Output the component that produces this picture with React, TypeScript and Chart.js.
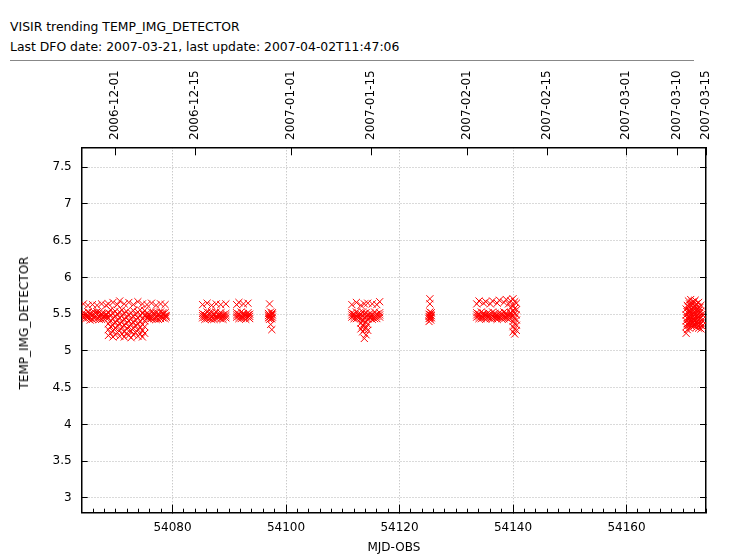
import { useEffect, useRef } from "react";
import { Chart, registerables, type ChartConfiguration } from "chart.js";

Chart.register(...registerables);

const FONT = "'DejaVu Sans', sans-serif";

const TITLE = "VISIR trending TEMP_IMG_DETECTOR";
const SUBTITLE = "Last DFO date: 2007-03-21, last update: 2007-04-02T11:47:06";
const X_TITLE = "MJD-OBS";
const Y_TITLE = "TEMP_IMG_DETECTOR";

// axis ranges
const X_MIN = 54064;
const X_MAX = 54174;
const Y_MIN = 2.8;
const Y_MAX = 7.77;

// tick values / labels
const mjdTicks = [54080, 54100, 54120, 54140, 54160];
const tempTicks = [3, 3.5, 4, 4.5, 5, 5.5, 6, 6.5, 7, 7.5];
const dateTickMjd = [54070, 54084, 54101, 54115, 54132, 54146, 54160, 54169, 54174];
const dateTickLabels = [
  "2006-12-01",
  "2006-12-15",
  "2007-01-01",
  "2007-01-15",
  "2007-02-01",
  "2007-02-15",
  "2007-03-01",
  "2007-03-10",
  "2007-03-15",
];

// observation blocks: MJD of each chunk, and the readings at that time
const blockA_mjd = [
  54064.3, 54064.7, 54065.1, 54065.5, 54065.9, 54066.3, 54066.7, 54067.1, 54067.5, 54067.9, 54068.3,
  54068.7, 54069.1, 54069.5, 54069.9, 54070.3, 54070.7, 54071.1, 54071.5, 54071.9, 54072.3, 54072.7,
  54073.1, 54073.5, 54073.9, 54074.3, 54074.7, 54075.1,
  54075.5, 54075.9, 54076.3, 54076.7, 54077.1, 54077.5, 54077.9, 54078.3, 54078.7, 54078.9,
];
const blockA_temp = [
  [5.46, 5.49, 5.52, 5.64], [5.44, 5.47, 5.5], [5.45, 5.48, 5.53, 5.62], [5.42, 5.45, 5.51], [5.43, 5.49, 5.52, 5.63],
  [5.44, 5.47, 5.52], [5.44, 5.5, 5.53, 5.62], [5.43, 5.46, 5.53], [5.43, 5.49, 5.51, 5.64], [5.44, 5.47, 5.51],
  [5.45, 5.48, 5.5, 5.62],
  [5.21, 5.29, 5.37, 5.45, 5.52, 5.64], [5.24, 5.33, 5.41, 5.49, 5.56], [5.19, 5.27, 5.35, 5.44, 5.51, 5.66],
  [5.22, 5.31, 5.39, 5.47, 5.54], [5.25, 5.34, 5.42, 5.5, 5.63], [5.2, 5.28, 5.37, 5.45, 5.53, 5.68],
  [5.23, 5.32, 5.4, 5.48, 5.56], [5.19, 5.26, 5.35, 5.43, 5.51, 5.64], [5.24, 5.3, 5.38, 5.46, 5.54],
  [5.21, 5.33, 5.41, 5.49, 5.66], [5.18, 5.27, 5.36, 5.44, 5.52], [5.22, 5.31, 5.39, 5.47, 5.55, 5.63],
  [5.25, 5.34, 5.42, 5.5], [5.2, 5.29, 5.37, 5.45, 5.53, 5.67], [5.23, 5.32, 5.4, 5.48, 5.56],
  [5.19, 5.28, 5.36, 5.44, 5.51, 5.64], [5.24, 5.33, 5.41, 5.49, 5.55],
  [5.45, 5.48, 5.51, 5.63], [5.43, 5.46, 5.49], [5.44, 5.47, 5.53, 5.65], [5.44, 5.5, 5.52], [5.43, 5.46, 5.52, 5.62],
  [5.43, 5.48, 5.51], [5.44, 5.47, 5.53, 5.64], [5.45, 5.5, 5.52], [5.44, 5.48, 5.52, 5.63], [5.46, 5.48],
];

const blockB_mjd = [54085.3, 54085.7, 54086.1, 54086.5, 54086.9, 54087.3, 54087.7, 54088.1, 54088.5, 54088.9, 54089.4];
const blockB_temp = [
  [5.45, 5.48, 5.51, 5.63], [5.43, 5.46, 5.49], [5.44, 5.47, 5.53, 5.65], [5.44, 5.5, 5.52], [5.43, 5.46, 5.52, 5.62],
  [5.43, 5.49, 5.51], [5.44, 5.47, 5.53, 5.64], [5.45, 5.48, 5.5], [5.44, 5.49, 5.52, 5.63], [5.43, 5.46, 5.49],
  [5.45, 5.48, 5.51, 5.64],
];

const blockC_mjd = [54091.3, 54091.7, 54092.1, 54092.5, 54092.9, 54093.3, 54093.6];
const blockC_temp = [
  [5.46, 5.49, 5.52, 5.63], [5.44, 5.47, 5.5, 5.66], [5.44, 5.47, 5.53], [5.45, 5.48, 5.51, 5.64], [5.43, 5.46, 5.49],
  [5.46, 5.49, 5.52, 5.65], [5.44, 5.47, 5.5],
];

const blockD_mjd = [54096.9, 54097.1, 54097.3, 54097.5, 54097.6];
const blockD_temp = [[5.45, 5.48, 5.51], [5.43, 5.46, 5.49, 5.64], [5.44, 5.47, 5.53, 5.36], [5.44, 5.5, 5.29], [5.46, 5.49, 5.52]];

const blockE_mjd = [
  54111.6, 54112.0, 54112.4, 54112.8, 54113.2, 54113.5, 54113.8, 54114.1, 54114.4, 54114.8, 54115.2, 54115.6,
  54116.0, 54116.5,
];
const blockE_temp = [
  [5.46, 5.49, 5.52, 5.63], [5.44, 5.47, 5.5], [5.44, 5.47, 5.53, 5.66], [5.45, 5.48, 5.51], [5.3, 5.38, 5.44, 5.5, 5.62],
  [5.26, 5.34, 5.42, 5.48, 5.53], [5.17, 5.29, 5.37, 5.45, 5.51, 5.64], [5.22, 5.32, 5.4, 5.47, 5.52],
  [5.28, 5.36, 5.43, 5.49, 5.65], [5.45, 5.48, 5.51], [5.43, 5.46, 5.49, 5.64], [5.44, 5.47, 5.53],
  [5.44, 5.47, 5.5, 5.63], [5.46, 5.49, 5.52, 5.67],
];

const blockF_mjd = [54125.2, 54125.35, 54125.5, 54125.6];
const blockF_temp = [[5.4, 5.44, 5.47, 5.5], [5.45, 5.49, 5.53, 5.64, 5.71], [5.42, 5.46, 5.49], [5.45, 5.48, 5.52]];

const blockG_mjd = [
  54133.6, 54134.0, 54134.4, 54134.8, 54135.2, 54135.6, 54136.0, 54136.4, 54136.8, 54137.2, 54137.6, 54138.0,
  54138.4, 54138.8, 54139.2, 54139.6, 54140.0, 54140.3, 54140.6,
];
const blockG_temp = [
  [5.46, 5.49, 5.52, 5.64], [5.44, 5.47, 5.5, 5.68], [5.44, 5.47, 5.53], [5.45, 5.48, 5.51, 5.65], [5.43, 5.46, 5.49, 5.67],
  [5.46, 5.49, 5.52], [5.44, 5.47, 5.5, 5.64], [5.44, 5.47, 5.53, 5.68], [5.45, 5.48, 5.51], [5.43, 5.46, 5.49, 5.65],
  [5.46, 5.49, 5.52, 5.69], [5.44, 5.47, 5.5], [5.44, 5.47, 5.53, 5.66], [5.45, 5.48, 5.51, 5.7], [5.43, 5.46, 5.49, 5.64],
  [5.46, 5.49, 5.52, 5.59, 5.68],
  [5.26, 5.33, 5.4, 5.47, 5.54, 5.62, 5.71], [5.23, 5.3, 5.37, 5.44, 5.51, 5.58, 5.67],
  [5.28, 5.35, 5.42, 5.49, 5.56, 5.65],
];

const blockH_mjd = [
  54170.5, 54170.7, 54170.9, 54171.1, 54171.3, 54171.5, 54171.7, 54171.9, 54172.1, 54172.3, 54172.5, 54172.7,
  54172.9, 54173.1, 54173.3,
];
const blockH_temp = [
  [5.24, 5.33, 5.41, 5.49, 5.57], [5.29, 5.37, 5.45, 5.53, 5.62], [5.35, 5.43, 5.51, 5.6, 5.68],
  [5.31, 5.39, 5.47, 5.55, 5.64], [5.36, 5.44, 5.52, 5.61, 5.7], [5.33, 5.41, 5.49, 5.57, 5.66],
  [5.38, 5.46, 5.54, 5.63], [5.34, 5.42, 5.5, 5.58, 5.67], [5.37, 5.45, 5.53, 5.61, 5.69],
  [5.32, 5.4, 5.48, 5.56, 5.64], [5.36, 5.44, 5.52, 5.6], [5.31, 5.39, 5.47, 5.55, 5.66],
  [5.35, 5.43, 5.51, 5.59], [5.3, 5.38, 5.46, 5.54, 5.62], [5.34, 5.42, 5.5],
];

const blocks: [number[], number[][]][] = [
  [blockA_mjd, blockA_temp],
  [blockB_mjd, blockB_temp],
  [blockC_mjd, blockC_temp],
  [blockD_mjd, blockD_temp],
  [blockE_mjd, blockE_temp],
  [blockF_mjd, blockF_temp],
  [blockG_mjd, blockG_temp],
  [blockH_mjd, blockH_temp],
];

const points = blocks.flatMap(([mjd, temp]) => mjd.flatMap((x, i) => temp[i].map((y) => ({ x, y }))));

// minor ticks on the MJD axis, every 2 days
const minorTicks: number[] = [];
for (let v = X_MIN; v <= X_MAX; v += 2) minorTicks.push(v);

const GRID = "#b4b4b4";
const AXIS = "#000";

function TrendChart() {
  const canvasRef = useRef<HTMLCanvasElement>(null);

  useEffect(() => {
    if (!canvasRef.current) return;
    const tickFont = { family: FONT, size: 12 };
    const config: ChartConfiguration<"scatter"> = {
      type: "scatter",
      data: {
        datasets: [
          {
            data: points,
            xAxisID: "x",
            yAxisID: "y",
            pointStyle: "crossRot",
            pointRadius: 5,
            borderWidth: 1,
            borderColor: "#ff0000",
            backgroundColor: "#ff0000",
          },
        ],
      },
      options: {
        animation: false,
        responsive: true,
        maintainAspectRatio: false,
        events: [],
        layout: { padding: { left: 0, right: 24, top: 0, bottom: 0 } },
        plugins: { legend: { display: false }, tooltip: { enabled: false } },
        scales: {
          xMinor: {
            type: "linear",
            position: "bottom",
            weight: 0,
            min: X_MIN,
            max: X_MAX,
            afterBuildTicks: (s) => {
              s.ticks = minorTicks.map((value) => ({ value }));
            },
            afterFit: (s) => {
              s.height = 0;
            },
            ticks: { display: false },
            grid: { drawOnChartArea: false, tickLength: -4, tickColor: AXIS, tickWidth: 1 },
            border: { display: false },
          },
          x: {
            type: "linear",
            position: "bottom",
            weight: 1,
            min: X_MIN,
            max: X_MAX,
            afterBuildTicks: (s) => {
              s.ticks = mjdTicks.map((value) => ({ value }));
            },
            afterFit: (s) => {
              s.height = 41.3;
            },
            ticks: {
              font: tickFont,
              color: AXIS,
              padding: 15.5,
              maxRotation: 0,
              autoSkip: false,
              callback: (v) => String(v),
            },
            grid: { color: GRID, lineWidth: 1, tickLength: -8, tickColor: AXIS, tickWidth: 1, tickBorderDash: [] },
            border: { color: AXIS, width: 1.5, dash: [1, 2] },
            title: {
              display: true,
              text: X_TITLE,
              color: AXIS,
              font: { family: FONT, size: 12, lineHeight: 1 },
              padding: 0,
            },
          },
          xTop: {
            type: "linear",
            position: "top",
            min: X_MIN,
            max: X_MAX,
            afterBuildTicks: (s) => {
              s.ticks = dateTickMjd.map((value) => ({ value }));
            },
            afterFit: (s) => {
              s.height = 147.3;
            },
            ticks: {
              font: tickFont,
              color: AXIS,
              padding: 15.3,
              labelOffset: 14,
              minRotation: 90,
              maxRotation: 90,
              autoSkip: false,
              callback: (v) => dateTickLabels[dateTickMjd.indexOf(Number(v))],
            },
            grid: { drawOnChartArea: false, tickLength: -8, tickColor: AXIS, tickWidth: 1 },
            border: { color: AXIS, width: 1.5 },
          },
          y: {
            type: "linear",
            position: "left",
            min: Y_MIN,
            max: Y_MAX,
            afterBuildTicks: (s) => {
              s.ticks = tempTicks.map((value) => ({ value }));
            },
            afterFit: (s) => {
              s.width = 81.7;
            },
            ticks: { font: tickFont, color: AXIS, padding: 16, callback: (v) => String(v) },
            grid: { color: GRID, lineWidth: 1, tickLength: -6, tickColor: AXIS, tickWidth: 1, tickBorderDash: [] },
            border: { color: AXIS, width: 1.5, dash: [1, 2] },
          },
          y2: {
            type: "linear",
            position: "right",
            min: Y_MIN,
            max: Y_MAX,
            afterBuildTicks: (s) => {
              s.ticks = tempTicks.map((value) => ({ value }));
            },
            afterFit: (s) => {
              s.width = 0;
            },
            ticks: { display: false },
            grid: { drawOnChartArea: false, tickLength: -6, tickColor: AXIS, tickWidth: 1 },
            border: { color: AXIS, width: 1.5 },
          },
        },
      },
    };
    const chart = new Chart(canvasRef.current, config);
    return () => chart.destroy();
  }, []);

  return (
    <div style={{ position: "absolute", left: 0, top: 0, width: 730, height: 554 }}>
      <canvas ref={canvasRef} />
    </div>
  );
}

export default function App() {
  const text = { position: "absolute" as const, fontFamily: FONT, fontSize: 12, lineHeight: "15px", color: "#000", whiteSpace: "nowrap" as const };
  return (
    <div style={{ position: "absolute", left: 0, top: 0, width: 730, height: 554, background: "#fff", overflow: "hidden" }}>
      <div style={{ ...text, fontSize: 12.4, left: 10, top: 19 }}>{TITLE}</div>
      <div style={{ ...text, fontSize: 12.4, left: 10, top: 39 }}>{SUBTITLE}</div>
      <div style={{ position: "absolute", left: 10, top: 60, width: 684, height: 1, background: "#888" }} />
      <TrendChart />
      <div
        style={{
          ...text,
          left: 24,
          top: 323,
          lineHeight: "normal",
          transform: "translate(-50%, -50%) rotate(-90deg)",
        }}
      >
        {Y_TITLE}
      </div>
    </div>
  );
}
